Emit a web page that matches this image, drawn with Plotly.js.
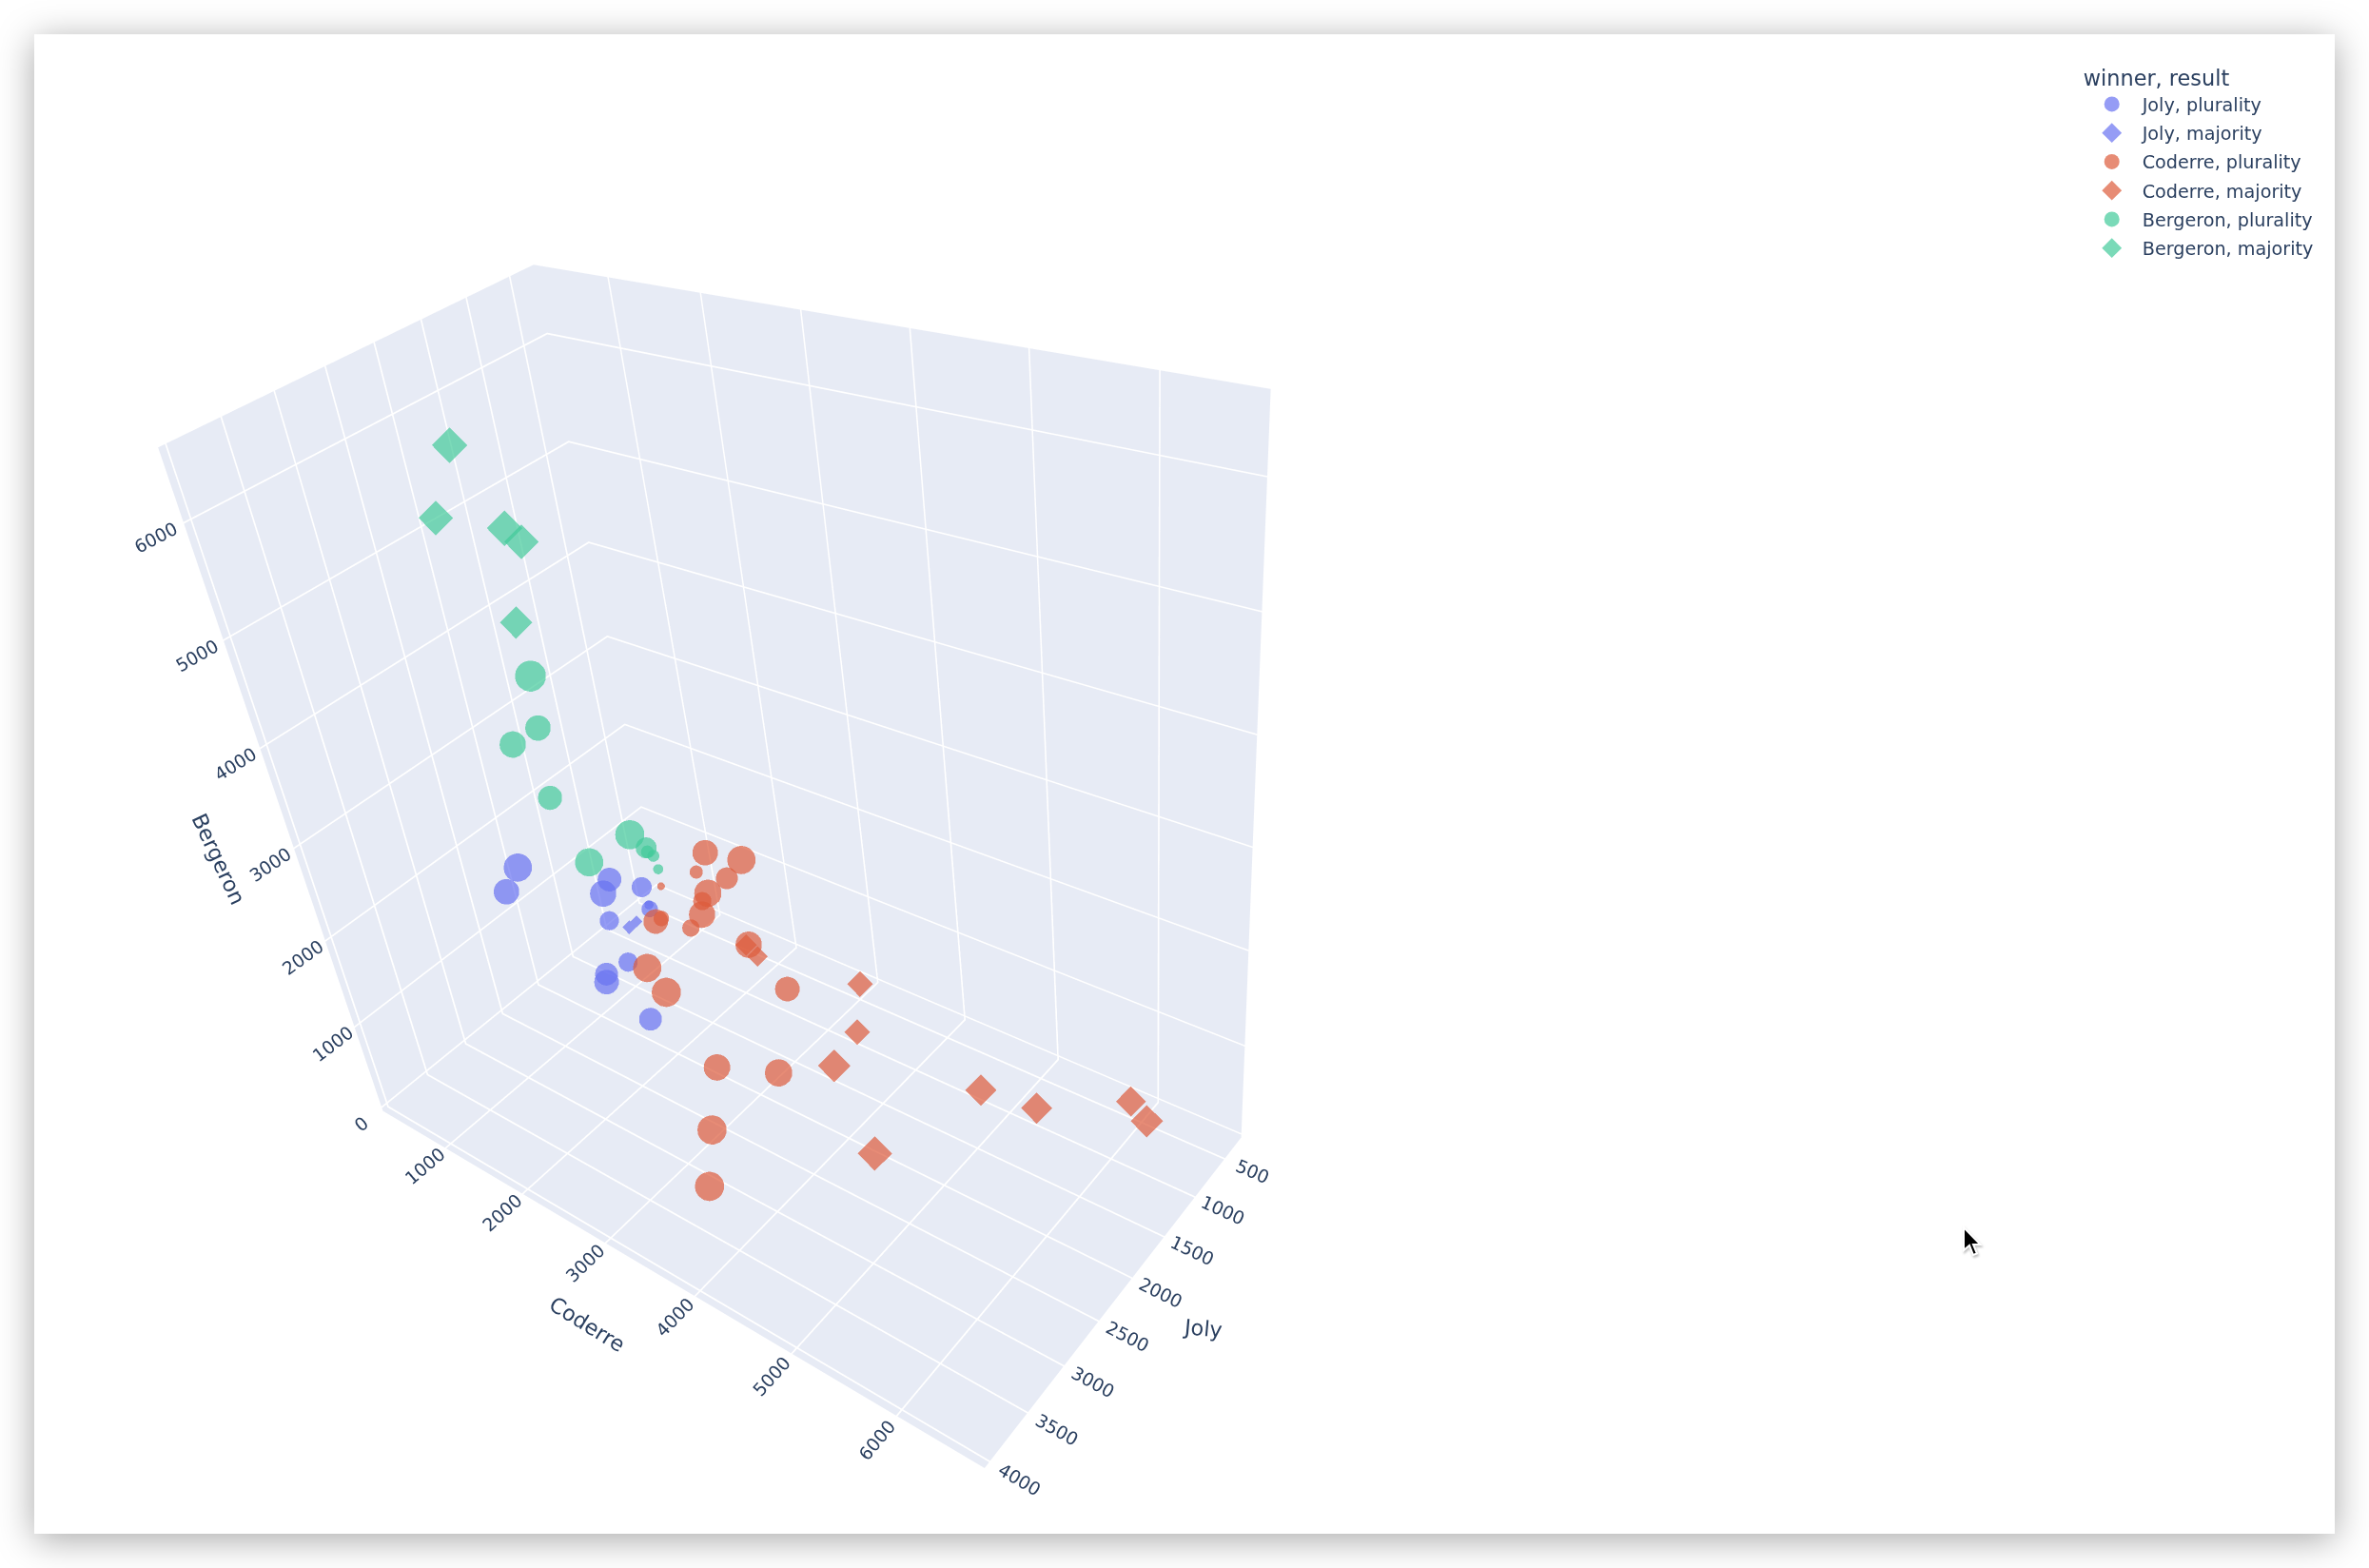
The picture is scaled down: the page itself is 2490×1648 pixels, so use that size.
<!DOCTYPE html><html><head><meta charset="utf-8"><script src="https://cdn.plot.ly/plotly-3.0.1.min.js"></script>
<style>html,body{margin:0;padding:0;background:#fff;width:2490px;height:1648px;overflow:hidden}
#plate{position:absolute;left:36px;top:36px;width:2418px;height:1576px;background:#fff;box-shadow:0 6px 36px rgba(0,0,0,.35)}
#g{position:absolute;left:0;top:0;width:2490px;height:1720px}
#cur{position:absolute;left:2060px;top:1286px;z-index:5}
</style></head><body><div id="plate"></div><div id="g"></div>
<svg id="cur" width="32" height="42" viewBox="0 0 32 42"><path d="M4 4 L4 28 L10 23 L14 33 L18 31.5 L14 22 L21.5 22 Z" fill="#000" stroke="#fff" stroke-width="2" style="filter:drop-shadow(1px 2px 1px rgba(0,0,0,.25))"/></svg>
<script>
const legendOrder=['Joly, plurality','Joly, majority','Coderre, plurality','Coderre, majority','Bergeron, plurality','Bergeron, majority'];
const joly_plurality_joly=[3630,3295,2395,2971,1678,570,1256,1896,1982,2679,3003,2638];
const joly_plurality_coderre=[2499,1811,2033,2618,1588,356,1148,1301,1543,2068,2451,2470];
const joly_plurality_bergeron=[3432,2693,2297,2777,1549,69,819,1190,862,1471,1797,1110];
const joly_plurality_total=[9560,7799,6725,8366,4815,995,3223,4387,4387,6218,7252,6218];
const joly_majority_joly=[800,1018];
const joly_majority_coderre=[382,510];
const joly_majority_bergeron=[21,154];
const joly_majority_total=[1204,1681];
const coderre_plurality_joly=[2109,2528,435,1441,309,2627,1134,2559,1212,2487,1127,2447,3399,3584,2083,3107,2995,3891,4020];
const coderre_plurality_coderre=[2948,3770,1001,2456,300,3447,1763,3265,1625,2616,1140,3616,3465,3839,3610,3707,4269,4390,4386];
const coderre_plurality_bergeron=[2742,3262,656,1833,110,2879,1082,2543,755,2149,608,2304,2696,2764,1560,1552,1689,1906,1421];
const coderre_plurality_total=[7799,9560,2092,5730,719,8953,3979,8366,3591,7252,2875,8366,9560,10187,7252,8366,8953,10187,10187];
const coderre_majority_joly=[1086,952,1178,1410,2695,1873,1665,957,1379,3221];
const coderre_majority_coderre=[2193,2182,3615,3719,4581,5354,5733,6166,6551,5353];
const coderre_majority_bergeron=[700,457,937,601,1677,1140,968,677,1023,1613];
const coderre_majority_total=[3979,3591,5730,5730,8953,8366,8366,7799,8953,10187];
const bergeron_plurality_joly=[3434,2450,2818,2436,3267,3158,1608,596,495,386];
const bergeron_plurality_coderre=[2922,1620,1727,1549,2898,3297,1674,523,486,395];
const bergeron_plurality_bergeron=[5144,3730,3821,3001,3395,3732,1981,831,700,422];
const bergeron_plurality_total=[11500,7799,8366,6986,9560,10187,5263,1950,1681,1204];
const bergeron_majority_joly=[2744,2867,2800,2557,2493];
const bergeron_majority_coderre=[1735,1529,2208,2062,1703];
const bergeron_majority_bergeron=[6355,5791,5826,5568,4757];
const bergeron_majority_total=[10833,10187,10833,10187,8953];
const colors=['rgb(104,114,241)','rgb(104,114,241)','rgb(221,91,59)','rgb(221,91,59)','rgb(66,202,154)','rgb(66,202,154)'];
const xs=[joly_plurality_joly,joly_majority_joly,coderre_plurality_joly,coderre_majority_joly,bergeron_plurality_joly,bergeron_majority_joly];
const ys=[joly_plurality_coderre,joly_majority_coderre,coderre_plurality_coderre,coderre_majority_coderre,bergeron_plurality_coderre,bergeron_majority_coderre];
const zs=[joly_plurality_bergeron,joly_majority_bergeron,coderre_plurality_bergeron,coderre_majority_bergeron,bergeron_plurality_bergeron,bergeron_majority_bergeron];
const ss=[joly_plurality_total,joly_majority_total,coderre_plurality_total,coderre_majority_total,bergeron_plurality_total,bergeron_majority_total];
const traces=legendOrder.map((n,i)=>{const dia=i%2==1;return{type:'scatter3d',mode:'markers',name:n,legendgroup:n,x:xs[i],y:ys[i],z:zs[i],
 marker:{size:ss[i],sizemode:'area',sizeref:dia?8.9:4,opacity:.7,color:colors[i],symbol:dia?'diamond':'circle',line:{width:0}}};});
const Wd=2490,Hd=1720,top_=58.2,bot=1653.8,cxw=1555.2;
const ax=(t,r,dt)=>({title:{text:t,font:{size:23,color:'rgba(255,255,255,0)'}},range:r,autorange:false,dtick:dt,tick0:0,backgroundcolor:'#E7EBF5',gridcolor:'#fff',gridwidth:4,linecolor:'#fff',showbackground:true,ticks:'outside',ticklen:10,tickcolor:'#fff',zerolinecolor:'#fff',tickfont:{size:15,color:'#2a3f5f'}});
const an=(t,x,y,z,xs,ys,a)=>({text:t,x,y,z,showarrow:false,xshift:xs,yshift:ys,textangle:a,xanchor:'center',yanchor:'middle',font:{family:'DejaVu Sans',size:22.4,color:'#2a3f5f'}});
Plotly.newPlot('g',traces,{width:Wd,height:Hd,margin:{l:0,r:0,t:0,b:0,pad:0},paper_bgcolor:'rgba(0,0,0,0)',font:{family:'DejaVu Sans',size:19.2,color:'#2a3f5f'},
 legend:{title:{text:'winner, result',font:{size:22.4}},x:0.8786,y:1-61.3/Hd,xanchor:'left',yanchor:'top',tracegroupgap:2.3,itemsizing:'trace',itemwidth:54,bgcolor:'rgba(0,0,0,0)'},
 scene:{domain:{x:[0,cxw/Wd],y:[1-bot/Hd,1-top_/Hd]},aspectmode:'manual',aspectratio:{x:0.5786,y:1,z:1.0022},dragmode:'orbit',
 xaxis:ax('Joly',[215,4067],500),yaxis:ax('Coderre',[131,6777],1000),zaxis:ax('Bergeron',[-48,6600],1000),
 annotations:[an('Coderre',4060,3500,-40,-65,-59,32),an('Joly',2500,6770,-40,110,-9,5),an('Bergeron',4060,135,3000,-80,-12,65)],
 camera:{eye:{x:1.2337,y:1.2381,z:1.2387},center:{x:-0.0017,y:-0.0032,z:0.0049},up:{x:-0.5136,y:-0.2911,z:0.8072}}}},{displayModeBar:false});
</script></body></html>
